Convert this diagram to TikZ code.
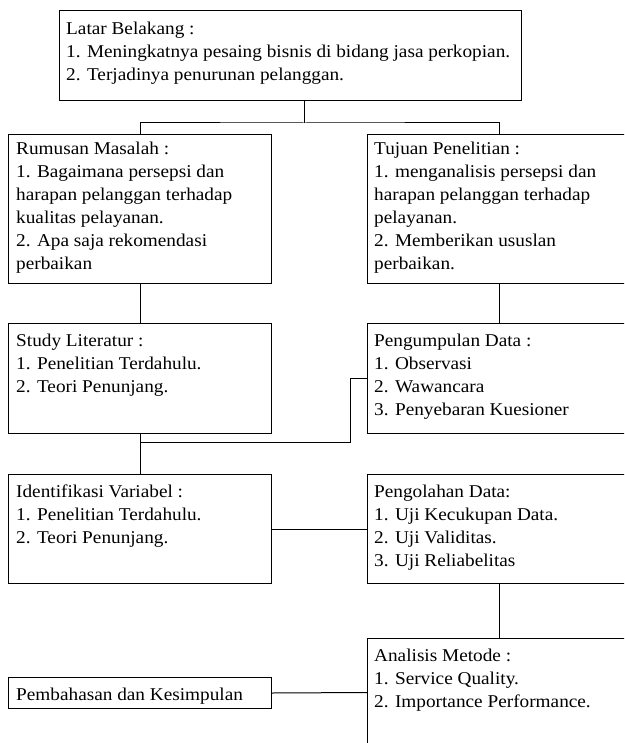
\documentclass[tikz,border=0pt]{standalone}
\usepackage{fontspec}
\setmainfont{Liberation Serif}[FakeStretch=1.07]
\begin{document}
\begin{tikzpicture}[x=1pt,y=-1pt,
  box/.style={draw=black,line width=1pt,inner sep=0pt,anchor=north west},
  txt/.style={anchor=north west,inner sep=0pt,align=left,font=\fontsize{18}{23}\selectfont},
  conn/.style={draw=black,line width=1pt}]
\useasboundingbox (0,0) rectangle (624,743);
\clip (0,0) rectangle (624,743);
% boxes
\node[box,minimum width=462pt,minimum height=90pt] (lb) at (59,10) {};
\node[box,minimum width=263pt,minimum height=149pt] (rm) at (8,134) {};
\node[box,minimum width=263pt,minimum height=149pt] (tp) at (367,134) {};
\node[box,minimum width=263pt,minimum height=110pt] (sl) at (8,323) {};
\node[box,minimum width=263pt,minimum height=110pt] (pd) at (367,323) {};
\node[box,minimum width=263pt,minimum height=109pt] (iv) at (8,474) {};
\node[box,minimum width=263pt,minimum height=109pt] (pg) at (367,474) {};
\node[box,minimum width=263pt,minimum height=108pt] (am) at (367,638) {};
\node[box,minimum width=263pt,minimum height=31pt] (pk) at (8,677) {};
% texts (first baseline = top + 14pt)
\node[txt] (tlb) at (66,20) {\rule{0pt}{14pt}Latar Belakang :\\1. Meningkatnya pesaing bisnis di bidang jasa perkopian.\\2. Terjadinya penurunan pelanggan.};
\node[txt] (trm) at (16,140) {\rule{0pt}{14pt}Rumusan Masalah :\\1. Bagaimana persepsi dan\\harapan pelanggan terhadap\\kualitas pelayanan.\\2. Apa saja rekomendasi\\perbaikan};
\node[txt] (ttp) at (374,140) {\rule{0pt}{14pt}Tujuan Penelitian :\\1. menganalisis persepsi dan\\harapan pelanggan terhadap\\pelayanan.\\2. Memberikan ususlan\\perbaikan.};
\node[txt] (tsl) at (16,332) {\rule{0pt}{14pt}Study Literatur :\\1. Penelitian Terdahulu.\\2. Teori Penunjang.};
\node[txt] (tpd) at (374,332) {\rule{0pt}{14pt}Pengumpulan Data :\\1. Observasi\\2. Wawancara\\3. Penyebaran Kuesioner};
\node[txt] (tiv) at (16,483) {\rule{0pt}{14pt}Identifikasi Variabel :\\1. Penelitian Terdahulu.\\2. Teori Penunjang.};
\node[txt] (tpg) at (374,483) {\rule{0pt}{14pt}Pengolahan Data:\\1. Uji Kecukupan Data.\\2. Uji Validitas.\\3. Uji Reliabelitas};
\node[txt] (tam) at (374,647) {\rule{0pt}{14pt}Analisis Metode :\\1. Service Quality.\\2. Importance Performance.};
\node[txt] (tpk) at (16,686) {\rule{0pt}{14pt}Pembahasan dan Kesimpulan};
% connectors
\draw[conn] ([xshift=14pt]lb.south) -- ++(0,22) coordinate (j1);
\draw[conn] (rm.north) |- (j1) -| (tp.north);
\draw[conn] (rm.south) -- (sl.north);
\draw[conn] (tp.south) -- (pd.north);
\draw[conn] (sl.south) -- (iv.north);
\coordinate (b2) at (350,442);
\draw[conn] (sl.south |- b2) -- (b2) |- (pd.west);
\draw[conn] (iv.east) -- (pg.west);
\draw[conn] (pg.south) -- (am.north);
\draw[conn] (pk.east) -- (am.west);
\end{tikzpicture}
\end{document}
